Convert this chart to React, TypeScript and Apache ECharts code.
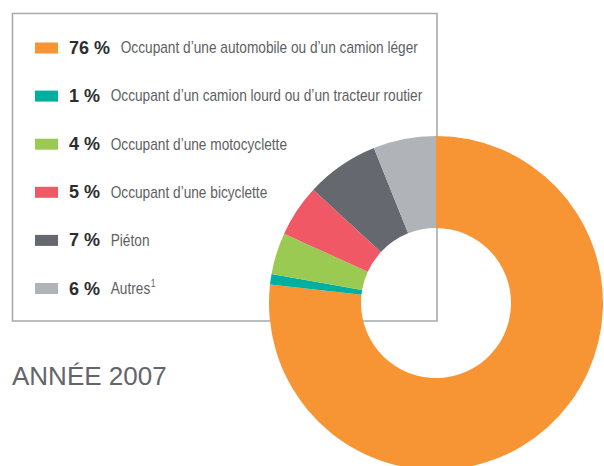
import React, { useEffect, useRef } from "react";
import * as echarts from "echarts";

const categories = [
  "Occupant d’une automobile ou d’un camion léger",
  "Occupant d’un camion lourd ou d’un tracteur routier",
  "Occupant d’une motocyclette",
  "Occupant d’une bicyclette",
  "Piéton",
  "Autres",
];
const values = [76, 1, 4, 5, 7, 6];
const notes = ["", "", "", "", "", "1"];
const colors = ["#f79433", "#00afa0", "#9bca53", "#ef5864", "#66686f", "#b0b3b8"];
const title = "ANNÉE 2007";

const PCT_FONT = "bold 18px 'Liberation Sans'";
const LBL_FONT = "16px 'Liberation Sans'";
const NARROW = 0.855;

function measure(text: string, font: string): number {
  const c = document.createElement("canvas").getContext("2d");
  if (!c) return text.length * 8;
  c.font = font;
  return c.measureText(text).width;
}

export default function App() {
  const ref = useRef<HTMLDivElement>(null);
  useEffect(() => {
    if (!ref.current) return;
    const chart = echarts.init(ref.current, undefined, { renderer: "svg" });

    const legendItems: any[] = [];
    categories.forEach((name, i) => {
      const cy = 48 + i * 48.1;
      const pct = `${values[i]} %`;
      const pctW = measure(pct, PCT_FONT);
      const lx = 69 + pctW + 10.7;
      const lw = measure(name, LBL_FONT) * NARROW;
      legendItems.push({
        type: "rect",
        z: 10,
        silent: true,
        shape: { x: 35, y: cy - 5.5, width: 23, height: 11 },
        style: { fill: colors[i] },
      });
      legendItems.push({
        type: "text",
        z: 10,
        silent: true,
        x: 69,
        y: cy,
        style: {
          text: pct,
          font: PCT_FONT,
          fill: "#2d2d2d",
          verticalAlign: "middle",
          align: "left",
        },
      });
      legendItems.push({
        type: "text",
        z: 10,
        silent: true,
        x: lx,
        y: cy,
        scaleX: NARROW,
        style: {
          text: name,
          font: LBL_FONT,
          fill: "#5d5f63",
          verticalAlign: "middle",
          align: "left",
        },
      });
      if (notes[i]) {
        legendItems.push({
          type: "text",
          z: 10,
          silent: true,
          x: lx + lw + 0.5,
          y: cy - 10,
          scaleX: NARROW,
          style: {
            text: notes[i],
            font: "10px 'Liberation Sans'",
            fill: "#5d5f63",
            verticalAlign: "top",
            align: "left",
          },
        });
      }
    });

    chart.setOption({
      animation: false,
      title: {
        text: title,
        left: 12,
        top: 363,
        padding: 0,
        textStyle: {
          fontFamily: "Liberation Sans",
          fontSize: 26,
          fontWeight: "normal",
          color: "#63656a",
          lineHeight: 26,
        },
      },
      graphic: [
        {
          type: "rect",
          z: 0,
          silent: true,
          shape: { x: 12.5, y: 13.5, width: 424.5, height: 307.5 },
          style: { fill: "#ffffff", stroke: "#a7aaad", lineWidth: 1.6 },
        },
        ...legendItems,
      ],
      series: [
        {
          type: "pie",
          z: 5,
          center: [436, 303],
          radius: [75, 167],
          startAngle: 90,
          clockwise: true,
          silent: true,
          label: { show: false },
          labelLine: { show: false },
          emphasis: { disabled: true },
          itemStyle: { borderWidth: 0 },
          data: categories.map((c, i) => ({
            name: c,
            value: values[i],
            itemStyle: { color: colors[i] },
          })),
        },
      ],
    });
    return () => chart.dispose();
  }, []);
  return <div ref={ref} style={{ width: 604, height: 466, position: "absolute", left: 0, top: 0 }} />;
}
